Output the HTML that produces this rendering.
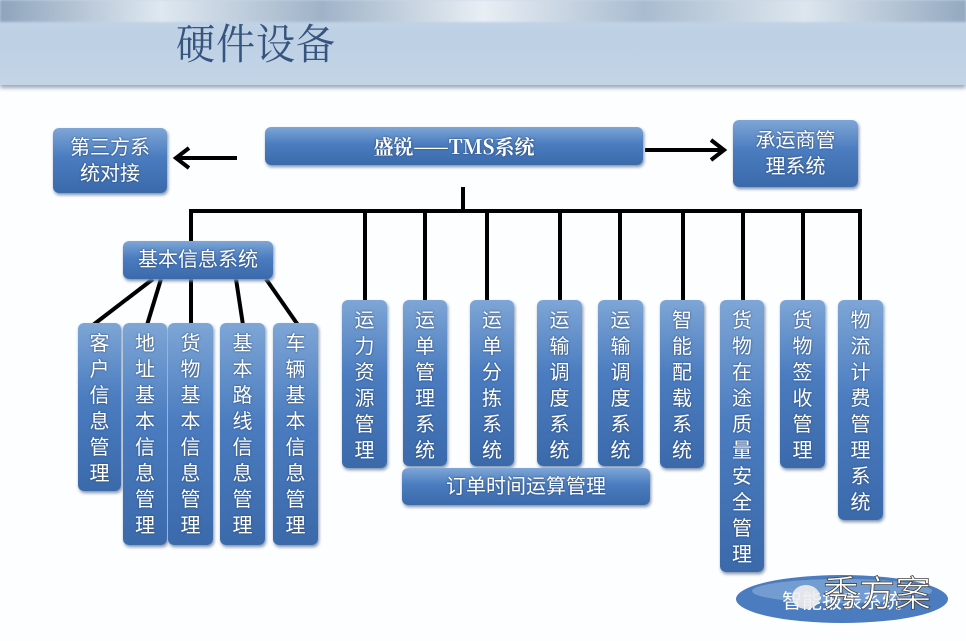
<!DOCTYPE html>
<html><head><meta charset="utf-8"><style>
body{margin:0;width:966px;height:641px;overflow:hidden;background:#fdfeff;font-family:"Liberation Sans","Noto Sans CJK SC",sans-serif;position:relative}
.hdr{position:absolute;left:0;top:0;width:966px;height:85px;background:linear-gradient(#c9d8e8,#bdd0e4 40%,#c3d4e6);box-shadow:0 3px 4px #9aa8b8}
.sky{position:absolute;left:0;top:0;width:966px;height:22px;background:linear-gradient(90deg,#8ea4bd,#dfe8f0,#9fb3c8,#e8eef4,#a9bcd0,#dde6ee,#93a9c0);filter:blur(1px)}
.title{position:absolute;left:176px;top:12px;font-size:42px;color:#36557e;font-family:"Noto Serif CJK SC","Noto Sans CJK SC",serif;letter-spacing:1px;transform:scaleX(0.93);transform-origin:left}
.b{position:absolute;box-sizing:border-box;background:linear-gradient(#7ea6d6,#4a7cbf 45%,#3b6aab);border-radius:6px;color:#fff;text-align:center;box-shadow:1px 2px 3px #7c8fa8;text-shadow:0 0 2px #24406a}
.v{font-size:20px;line-height:26px;padding-top:8px}
.h{font-size:20px;display:flex;align-items:center;justify-content:center;line-height:26px}
svg{position:absolute;left:0;top:0}
</style></head><body>
<div class="hdr"><div class="sky"></div></div>
<div class="title">硬件设备</div>
<svg width="966" height="641">
<g stroke="#000" stroke-width="4" fill="none">
<line x1="237" y1="158" x2="178" y2="158"/><polyline points="189,148 176,158 189,168"/>
<line x1="645" y1="150" x2="722" y2="150"/><polyline points="711,140 724,150 711,160"/>
<line x1="463" y1="187" x2="463" y2="210"/>
<line x1="189" y1="211" x2="862" y2="211"/>
<line x1="191" y1="211" x2="191" y2="243"/>
<line x1="365" y1="211" x2="365" y2="302"/><line x1="425" y1="211" x2="425" y2="302"/>
<line x1="487" y1="211" x2="487" y2="302"/><line x1="560" y1="211" x2="560" y2="302"/>
<line x1="620" y1="211" x2="620" y2="302"/><line x1="683" y1="211" x2="683" y2="302"/>
<line x1="743" y1="211" x2="743" y2="302"/><line x1="803" y1="211" x2="803" y2="302"/>
<line x1="860" y1="211" x2="860" y2="302"/>
<line x1="153" y1="279" x2="93" y2="325"/><line x1="161" y1="279" x2="147" y2="325"/>
<line x1="191" y1="279" x2="191" y2="325"/><line x1="236" y1="279" x2="243" y2="325"/>
<line x1="266" y1="279" x2="298" y2="325"/>
</g>
<ellipse cx="842" cy="599" rx="106" ry="24" fill="#4a7cbf"/>
<ellipse cx="842" cy="591" rx="90" ry="12" fill="#8fb2dd" opacity="0.6"/>
<text x="842" y="608" font-size="20" fill="#fff" text-anchor="middle" font-family="Noto Sans CJK SC">智能报表系统</text>
<ellipse cx="806" cy="597" rx="14" ry="12" fill="#eee" opacity="0.9"/>
<text x="877" y="606" font-size="36" fill="#fff" stroke="#444" stroke-width="0.8" text-anchor="middle" font-family="Noto Sans CJK SC">秀方案</text>
</svg>
<div class="b h" style="left:265px;top:127px;width:378px;height:38px;font-weight:bold;font-family:'Noto Serif CJK SC',serif">盛锐——TMS系统</div>
<div class="b h" style="left:53px;top:128px;width:114px;height:65px">第三方系<br>统对接</div>
<div class="b h" style="left:733px;top:120px;width:125px;height:67px">承运商管<br>理系统</div>
<div class="b h" style="left:123px;top:241px;width:150px;height:38px">基本信息系统</div>
<div class="b v" style="left:78px;top:323px;width:43px;height:168px">客<br>户<br>信<br>息<br>管<br>理</div>
<div class="b v" style="left:123px;top:323px;width:44px;height:222px">地<br>址<br>基<br>本<br>信<br>息<br>管<br>理</div>
<div class="b v" style="left:168px;top:323px;width:45px;height:222px">货<br>物<br>基<br>本<br>信<br>息<br>管<br>理</div>
<div class="b v" style="left:220px;top:323px;width:45px;height:222px">基<br>本<br>路<br>线<br>信<br>息<br>管<br>理</div>
<div class="b v" style="left:273px;top:323px;width:45px;height:222px">车<br>辆<br>基<br>本<br>信<br>息<br>管<br>理</div>
<div class="b v" style="left:342px;top:300px;width:45px;height:168px">运<br>力<br>资<br>源<br>管<br>理</div>
<div class="b v" style="left:403px;top:300px;width:44px;height:166px">运<br>单<br>管<br>理<br>系<br>统</div>
<div class="b v" style="left:470px;top:300px;width:44px;height:166px">运<br>单<br>分<br>拣<br>系<br>统</div>
<div class="b v" style="left:537px;top:300px;width:45px;height:166px">运<br>输<br>调<br>度<br>系<br>统</div>
<div class="b v" style="left:598px;top:300px;width:45px;height:166px">运<br>输<br>调<br>度<br>系<br>统</div>
<div class="b v" style="left:660px;top:300px;width:44px;height:168px">智<br>能<br>配<br>载<br>系<br>统</div>
<div class="b v" style="left:720px;top:300px;width:44px;height:272px">货<br>物<br>在<br>途<br>质<br>量<br>安<br>全<br>管<br>理</div>
<div class="b v" style="left:780px;top:300px;width:45px;height:168px">货<br>物<br>签<br>收<br>管<br>理</div>
<div class="b v" style="left:838px;top:300px;width:45px;height:220px">物<br>流<br>计<br>费<br>管<br>理<br>系<br>统</div>
<div class="b h" style="left:402px;top:468px;width:248px;height:37px">订单时间运算管理</div>
</body></html>
